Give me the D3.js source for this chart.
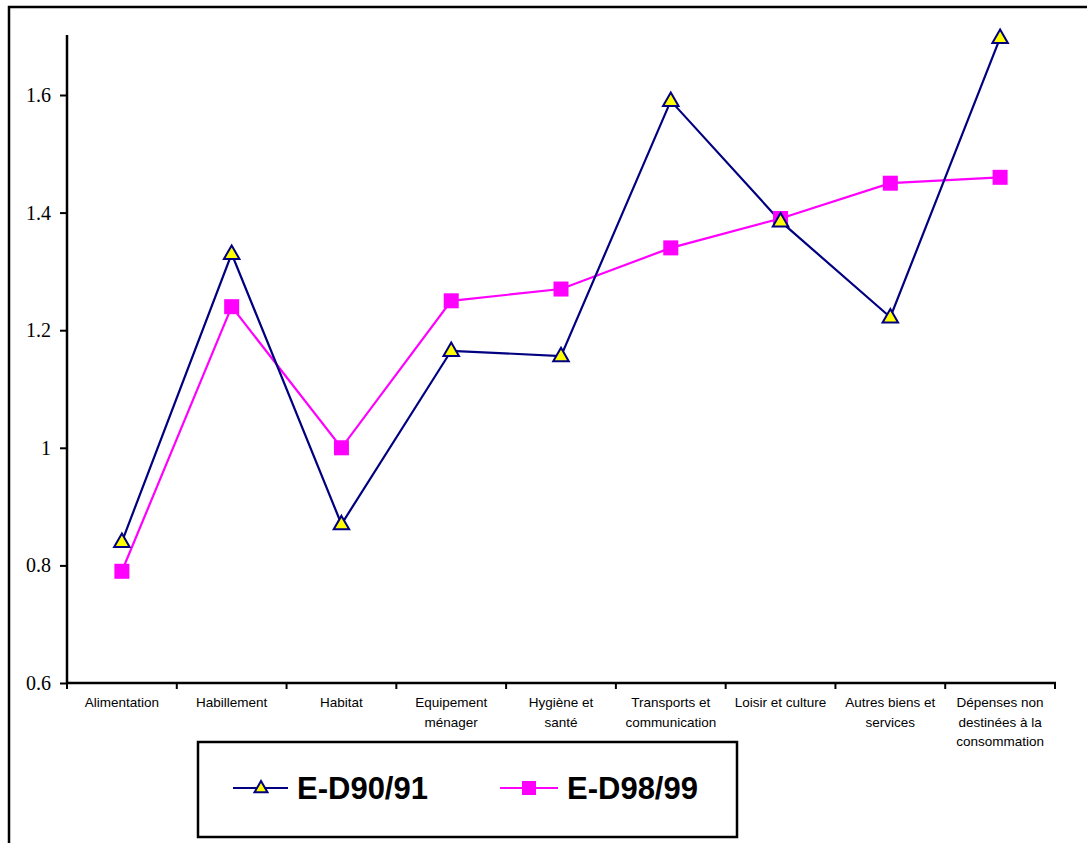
<!DOCTYPE html>
<html><head><meta charset="utf-8">
<script src="https://cdn.jsdelivr.net/npm/d3@7/dist/d3.min.js"></script>
<style>body{margin:0;background:#fff}svg{display:block}</style>
</head><body>
<script>
const categories = ["Alimentation","Habillement","Habitat","Equipement ménager","Hygiène et santé","Transports et communication","Loisir et culture","Autres biens et services","Dépenses non destinées à la consommation"];
const categoryLines = [["Alimentation"],["Habillement"],["Habitat"],["Equipement","ménager"],["Hygiène et","santé"],["Transports et","communication"],["Loisir et culture"],["Autres biens et","services"],["Dépenses non","destinées à la","consommation"]];
const seriesNames = ["E-D90/91","E-D98/99"];
const ed9091 = [0.84,1.33,0.87,1.165,1.156,1.59,1.385,1.222,1.697];
const ed9899 = [0.79,1.24,1.0,1.25,1.27,1.34,1.39,1.45,1.46];
const yTicks = [0.6,0.8,1,1.2,1.4,1.6];

const W=1087,H=843;
const svg=d3.select("body").append("svg").attr("width",W).attr("height",H);
svg.append("path").attr("d","M9,850 L9,7 L1095,7").attr("fill","none").attr("stroke","#000").attr("stroke-width",2.5);

const x0=67,x1=1055,yTop=35,yBot=683;
const x=d3.scaleBand().domain(categories).range([x0,x1]);
const y=d3.scaleLinear().domain([0.6,1.7]).range([yBot,yBot-(1.1/0.2)*117.6]);

const yAxis=d3.axisLeft(y).tickValues(yTicks).tickSize(7).tickFormat(d=>String(d));
const gy=svg.append("g").attr("transform",`translate(${x0},0)`).call(yAxis);
gy.select(".domain").remove();
gy.selectAll(".tick line").attr("stroke","#000").attr("stroke-width",2);
gy.selectAll(".tick text").attr("font-family","'Liberation Serif','Times New Roman',serif").attr("font-size","20px").attr("fill","#000").attr("x",-16);
svg.append("line").attr("x1",x0).attr("x2",x0).attr("y1",yTop).attr("y2",yBot+1).attr("stroke","#000").attr("stroke-width",2.5);

const gx=svg.append("g").attr("transform",`translate(0,${yBot})`);
gx.append("line").attr("x1",x0-1).attr("x2",x1+1).attr("y1",0).attr("y2",0).attr("stroke","#000").attr("stroke-width",2.5);
const bounds=categories.map(c=>x(c)).concat([x1]);
gx.selectAll("line.tk").data(bounds).enter().append("line").attr("class","tk")
  .attr("x1",d=>d).attr("x2",d=>d).attr("y1",0).attr("y2",6).attr("stroke","#000").attr("stroke-width",2);
categories.forEach((c,i)=>{
  const t=gx.append("text").attr("text-anchor","middle").attr("font-family","'Liberation Sans',Arial,sans-serif")
    .attr("font-size","13.5px").attr("fill","#000");
  categoryLines[i].forEach((ln,j)=>{
    t.append("tspan").attr("x",x(c)+x.bandwidth()/2).attr("y",24+j*19.5).text(ln);
  });
});

const cx=c=>x(c)+x.bandwidth()/2;
const line=d3.line().x((d,i)=>cx(categories[i])).y(d=>y(d));
const triPath=(s)=>{const h=s*0.87;return `M0,${-h*0.62} L${s/2},${h*0.38} L${-s/2},${h*0.38} Z`;};

svg.append("path").datum(ed9899).attr("d",line).attr("fill","none").attr("stroke","#FF00FF").attr("stroke-width",2.2);
svg.append("path").datum(ed9091).attr("d",line).attr("fill","none").attr("stroke","#000080").attr("stroke-width",2.2);

svg.selectAll("rect.sq").data(ed9899).enter().append("rect").attr("class","sq")
  .attr("x",(d,i)=>cx(categories[i])-7.5).attr("y",d=>y(d)-7.5).attr("width",15).attr("height",15).attr("fill","#FF00FF");
svg.selectAll("path.tri").data(ed9091).enter().append("path").attr("class","tri")
  .attr("d",triPath(15.5)).attr("transform",(d,i)=>`translate(${cx(categories[i])},${y(d)})`)
  .attr("fill","#FFFF00").attr("stroke","#000080").attr("stroke-width",2);

const lg=svg.append("g");
lg.append("rect").attr("x",198).attr("y",742).attr("width",539).attr("height",95).attr("fill","#fff").attr("stroke","#000").attr("stroke-width",2.5);
const ly=788;
lg.append("line").attr("x1",233).attr("x2",288).attr("y1",ly).attr("y2",ly).attr("stroke","#000080").attr("stroke-width",2.2);
lg.append("path").attr("d",triPath(13)).attr("transform",`translate(261,${ly})`).attr("fill","#FFFF00").attr("stroke","#000080").attr("stroke-width",2);
lg.append("text").attr("x",297).attr("y",ly+11).attr("font-family","'Liberation Sans',Arial,sans-serif").attr("font-weight","bold").attr("font-size","31px").text(seriesNames[0]);
lg.append("line").attr("x1",500).attr("x2",558).attr("y1",ly).attr("y2",ly).attr("stroke","#FF00FF").attr("stroke-width",2.2);
lg.append("rect").attr("x",522).attr("y",ly-7).attr("width",14).attr("height",14).attr("fill","#FF00FF");
lg.append("text").attr("x",567).attr("y",ly+11).attr("font-family","'Liberation Sans',Arial,sans-serif").attr("font-weight","bold").attr("font-size","31px").text(seriesNames[1]);
</script>
</body></html>
